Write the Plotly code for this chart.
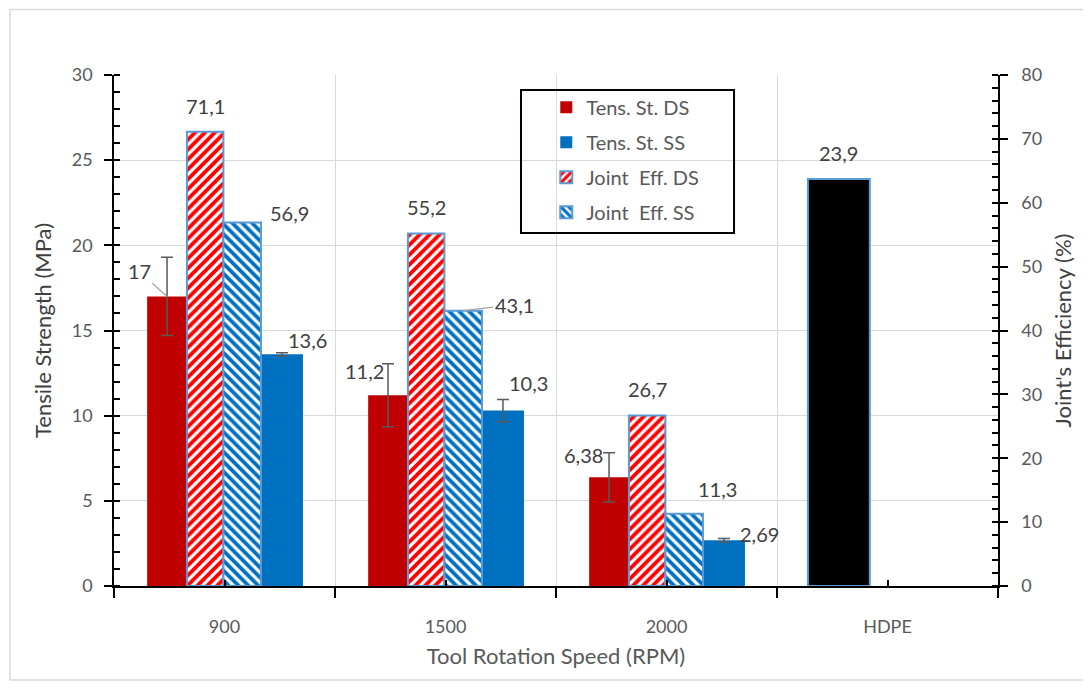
import plotly.graph_objects as go

# ---- data ----
categories = ["900", "1500", "2000", "HDPE"]
speed_groups = ["900", "1500", "2000"]
tens_ds = [17, 11.2, 6.38]
tens_ds_err = [2.3, 1.85, 1.45]
tens_ss = [13.6, 10.3, 2.69]
tens_ss_err = [0.1, 0.65, 0.1]
joint_ds = [71.1, 55.2, 26.7]
joint_ss = [56.9, 43.1, 11.3]
hdpe_group = ["HDPE"]
hdpe_ts = [23.9]

FONT = "Lato"
TICK_C = "#595959"
LABEL_C = "#404040"
OUTLINE = "#5B9BD5"

def fmt(v):
    return str(v).replace(".", ",")

# bar geometry (fraction of category width)
geo = {
    "tds": (-0.35, 0.18),
    "jds": (-0.17, 0.165),
    "jss": (-0.005, 0.17),
    "tss": (0.165, 0.19),
    "hdpe": (-0.36, 0.28),
}

fig = go.Figure()

fig.add_trace(go.Bar(
    name="Tens. St. DS", x=speed_groups, y=tens_ds, xaxis="x", yaxis="y",
    offset=geo["tds"][0], width=geo["tds"][1],
    marker=dict(color="#C00000", line=dict(width=0)),
    error_y=dict(type="data", array=tens_ds_err, color="#595959", thickness=1.5, width=6),
    legendgroup="a", legendrank=1,
))
fig.add_trace(go.Bar(
    name="Tens. St. SS", x=speed_groups, y=tens_ss, xaxis="x", yaxis="y",
    offset=geo["tss"][0], width=geo["tss"][1],
    marker=dict(color="#0070C0", line=dict(width=0)),
    error_y=dict(type="data", array=tens_ss_err, color="#595959", thickness=1.5, width=6),
    legendgroup="b", legendrank=2,
))
fig.add_trace(go.Bar(
    name="Joint  Eff. DS", x=speed_groups, y=joint_ds, xaxis="x2", yaxis="y2",
    offset=geo["jds"][0], width=geo["jds"][1],
    marker=dict(color="#FF0000", line=dict(color=OUTLINE, width=2),
                pattern=dict(shape="/", fgcolor="#FF0000", bgcolor="white", size=7, solidity=0.55, fgopacity=1)),
    legendgroup="c", legendrank=3,
))
fig.add_trace(go.Bar(
    name="Joint  Eff. SS", x=speed_groups, y=joint_ss, xaxis="x2", yaxis="y2",
    offset=geo["jss"][0], width=geo["jss"][1],
    marker=dict(color="#0070C0", line=dict(color=OUTLINE, width=2),
                pattern=dict(shape="\\", fgcolor="#0070C0", bgcolor="white", size=7, solidity=0.55, fgopacity=1)),
    legendgroup="d", legendrank=4,
))
fig.add_trace(go.Bar(
    name="HDPE", x=hdpe_group, y=hdpe_ts, xaxis="x", yaxis="y",
    offset=geo["hdpe"][0], width=geo["hdpe"][1],
    marker=dict(color="black", line=dict(color=OUTLINE, width=2)),
    showlegend=False,
))

# ---- data labels ----
PLOT_W = 884
CAT_PX = PLOT_W / len(categories)

def center_px(key):
    o, w = geo[key]
    return (o + w / 2) * CAT_PX

annots = []
label_specs = [
    ("tds", speed_groups, tens_ds, "y", [(-28, -25, True), (-24, 24, False), (-26, 22, False)]),
    ("jds", speed_groups, joint_ds, "y2", [(0, 26, False), (0, 26, False), (0, 26, False)]),
    ("jss", speed_groups, joint_ss, "y2", [(47, 10, False), (51, -6, True), (33, 25, False)]),
    ("tss", speed_groups, tens_ss, "y", [(26, 14, False), (26, 28, False), (36, 6, False)]),
    ("hdpe", hdpe_group, hdpe_ts, "y", [(0, 26, False)]),
]
for key, xs, ys, yref, offs in label_specs:
    cx = center_px(key)
    for xv, yv, (dx, dy, arrow) in zip(xs, ys, offs):
        a = dict(x=categories.index(xv), y=yv, xref="x", yref=yref, text=fmt(yv),
                 font=dict(family=FONT, size=20, color=LABEL_C))
        if arrow:
            a.update(showarrow=True, xshift=cx, ax=dx, ay=dy, arrowhead=0,
                     arrowwidth=1.2, arrowcolor="#A6A6A6", standoff=0)
        else:
            a.update(showarrow=False, xshift=cx + dx, yshift=dy)
        annots.append(a)

# page has an 8px body margin; figure sized to fit the window
fig.update_layout(
    width=1075, height=673,
    margin=dict(l=106, r=85, t=67, b=95),
    paper_bgcolor="white", plot_bgcolor="white",
    barmode="overlay",
    font=dict(family=FONT, size=18, color=TICK_C),
    annotations=annots,
    xaxis=dict(
        type="category", categoryorder="array", categoryarray=categories,
        range=[-0.5, len(categories) - 0.5],
        tickson="boundaries", ticks="outside", ticklen=10, tickwidth=1.5, tickcolor="black",
        showgrid=True, gridcolor="#D9D9D9", gridwidth=1,
        showline=True, linecolor="black", linewidth=1.5,
        tickfont=dict(family=FONT, size=18, color=TICK_C), ticklabelstandoff=24,
        title=dict(text="Tool Rotation Speed (RPM)", font=dict(family=FONT, size=22, color=TICK_C), standoff=12),
    ),
    xaxis2=dict(
        type="category", categoryorder="array", categoryarray=categories,
        range=[-0.5, len(categories) - 0.5],
        overlaying="x", anchor="y2", side="bottom",
        ticks="inside", ticklen=6, tickwidth=1.5, tickcolor="black",
        showticklabels=False, showgrid=False, showline=False, zeroline=False,
    ),
    yaxis=dict(
        range=[0, 30], dtick=5, tick0=0,
        ticks="outside", ticklen=8, tickwidth=1.5, tickcolor="black",
        minor=dict(dtick=1, ticks="inside", ticklen=6, tickwidth=1.5, tickcolor="black", showgrid=False),
        showgrid=True, gridcolor="#D9D9D9", gridwidth=1, zeroline=False,
        showline=True, linecolor="black", linewidth=1.5,
        tickfont=dict(family=FONT, size=18, color=TICK_C), ticklabelstandoff=8,
        title=dict(text="Tensile Strength (MPa)", font=dict(family=FONT, size=22, color=LABEL_C), standoff=14),
    ),
    yaxis2=dict(
        range=[0, 80], dtick=10, tick0=0, overlaying="y", side="right", anchor="x",
        ticks="outside", ticklen=8, tickwidth=1.5, tickcolor="black",
        minor=dict(dtick=2, ticks="inside", ticklen=6, tickwidth=1.5, tickcolor="black", showgrid=False),
        showgrid=False, zeroline=False,
        showline=True, linecolor="black", linewidth=1.5,
        tickfont=dict(family=FONT, size=18, color=TICK_C), ticklabelstandoff=10,
        title=dict(text="Joint's Efficiency (%)", font=dict(family=FONT, size=22, color=LABEL_C), standoff=14),
    ),
    legend=dict(
        x=0.489, y=0.975, xanchor="left", yanchor="top",
        bgcolor="rgba(0,0,0,0)", borderwidth=0,
        font=dict(family=FONT, size=20, color=TICK_C),
        traceorder="grouped", tracegroupgap=6,
    ),
    shapes=[
        dict(type="rect", xref="paper", yref="paper",
             x0=0.4604, x1=0.7014, y0=0.6908, y1=0.9706,
             line=dict(color="black", width=2), fillcolor="rgba(0,0,0,0)"),
        dict(type="rect", xref="paper", yref="paper",
             x0=-0.1176, x1=1.12, y0=-0.1840, y1=1.128,
             line=dict(color="#D9D9D9", width=1.5), fillcolor="rgba(0,0,0,0)", layer="below"),
    ],
)

fig.write_html("out.html")
